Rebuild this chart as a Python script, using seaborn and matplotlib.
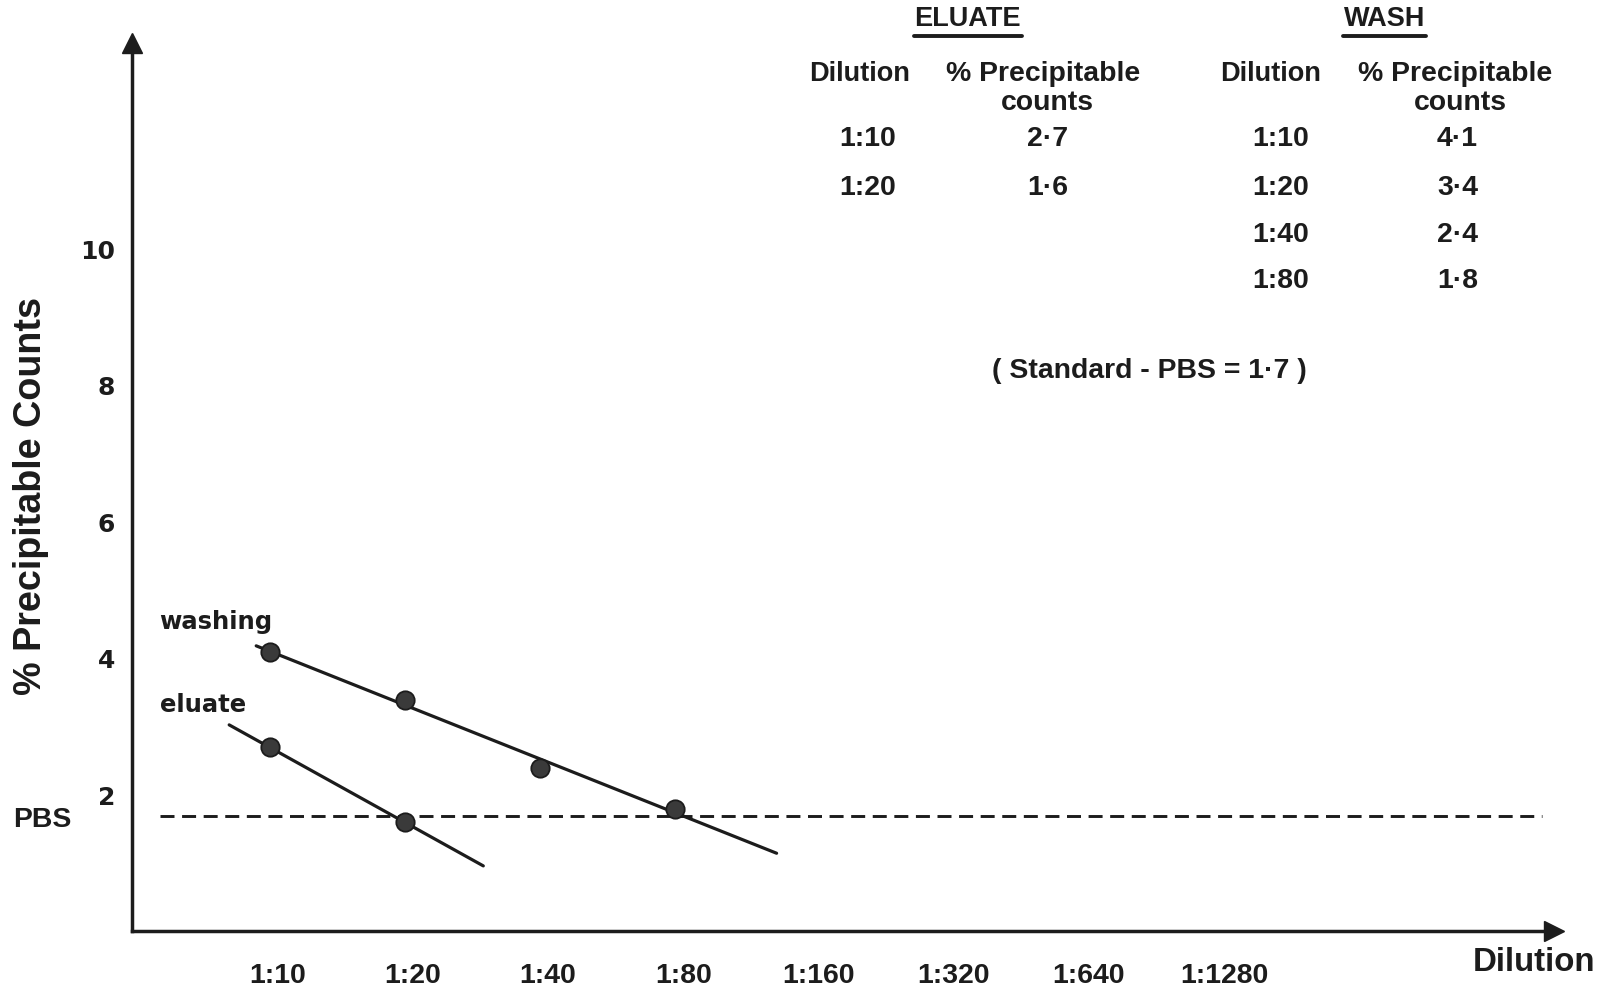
import numpy as np
import pandas as pd
import matplotlib
matplotlib.use("Agg")
import matplotlib.pyplot as plt
from matplotlib import font_manager
from matplotlib.lines import Line2D
import matplotlib.transforms as mtransforms
import seaborn as sns

# ---------------- data ----------------
dilution_labels = ["1:10", "1:20", "1:40", "1:80", "1:160", "1:320", "1:640", "1:1280"]
eluate_dilution = ["1:10", "1:20"]
eluate_pct = [2.7, 1.6]
wash_dilution = ["1:10", "1:20", "1:40", "1:80"]
wash_pct = [4.1, 3.4, 2.4, 1.8]
pbs_standard = 1.7
y_ticks = [2, 4, 6, 8, 10]

eluate_table_vals = ["2·7", "1·6"]
wash_table_vals = ["4·1", "3·4", "2·4", "1·8"]

# ---------------- fonts ----------------
sns.set_theme(style="white")
names = {f.name for f in font_manager.fontManager.ttflist}
NARROW = "Liberation Sans Narrow" if "Liberation Sans Narrow" in names else "Liberation Sans"
narrow_scale = 1.0 if NARROW == "Liberation Sans Narrow" else 0.85
WIDE = "DejaVu Sans"
plt.rcParams["font.family"] = [NARROW, "DejaVu Sans"]
INK = "#1c1c1c"

def pos(lbl):
    return dilution_labels.index(lbl)

el = pd.DataFrame({"x": [pos(d) for d in eluate_dilution], "y": eluate_pct})
wa = pd.DataFrame({"x": [pos(d) for d in wash_dilution], "y": wash_pct})

fig = plt.figure(figsize=(16.14, 9.88), dpi=100)
ax = fig.add_axes([0.0817, 0.0572, 0.881, 0.8993])
ax.set_xlim(-1.02, 9.5)
ax.set_ylim(0, 13.03)

# fitted lines (least squares through the points), extended a bit
def fit_line(df, x0, x1):
    k, b = np.polyfit(df["x"], df["y"], 1)
    xs = np.array([x0, x1])
    return pd.DataFrame({"x": xs, "y": k * xs + b})

sns.lineplot(data=fit_line(wa, -0.1, 3.75), x="x", y="y", ax=ax, color=INK, lw=2.3, sort=False)
sns.lineplot(data=fit_line(el, -0.3, 1.58), x="x", y="y", ax=ax, color=INK, lw=2.3, sort=False)
sns.scatterplot(data=wa, x="x", y="y", ax=ax, color="#3a3a3a", edgecolor=INK, s=175, linewidth=1.3, zorder=5)
sns.scatterplot(data=el, x="x", y="y", ax=ax, color="#3a3a3a", edgecolor=INK, s=175, linewidth=1.3, zorder=5)

ax.hlines(pbs_standard, -0.81, 9.41, colors=INK, linewidth=2.1, linestyles=(0, (4.8, 2.6)))

# axes styling
for s in ["top", "right"]:
    ax.spines[s].set_visible(False)
for s in ["left", "bottom"]:
    ax.spines[s].set_color(INK)
    ax.spines[s].set_linewidth(2.5)
ax.plot([0], [1], marker="^", markersize=15, color=INK, transform=ax.transAxes, clip_on=False)
ax.plot([1], [0], marker=">", markersize=15, color=INK, transform=ax.transAxes, clip_on=False)

ax.set_xticks(range(len(dilution_labels)))
ax.set_xticklabels(dilution_labels, fontsize=24 * narrow_scale, fontweight="bold", color=INK)
ax.set_yticks(y_ticks)
ax.set_yticklabels([str(v) for v in y_ticks], fontsize=18, fontweight="bold", color=INK, family=WIDE)
ax.tick_params(axis="both", direction="out", length=9, width=1.6, color=INK)
ax.tick_params(axis="x", pad=14)
ax.tick_params(axis="y", pad=3)
ax.set_xlabel("")
ax.set_ylabel("")
offset = mtransforms.ScaledTranslation(8 / 100, 0, fig.dpi_scale_trans)
for tick in ax.xaxis.get_major_ticks():
    tick.label1.set_transform(tick.label1.get_transform() + offset)

W, H = 1614.0, 988.0
sc = 1614 / 1568

def ftext(x, y, s, size=22, ha="center", va="center", family=None, **kw):
    fam = family if family else [NARROW, "DejaVu Sans"]
    if family is None:
        size = size * narrow_scale
    return fig.text(x * sc / W, 1 - y * sc / H, s, fontsize=size, ha=ha, va=va,
                    fontweight="bold", color=INK, family=fam, **kw)

# axis labels
ftext(30, 482, "% Precipitable Counts", size=32, rotation=90)
ftext(1490, 935, "Dilution", size=28)
ftext(41, 797, "PBS", size=24)
ftext(155, 604, "washing", size=17.5, ha="left", family=WIDE)
ftext(155, 685, "eluate", size=17.5, ha="left", family=WIDE)

# table
ftext(940, 18, "ELUATE", size=23)
ftext(1345, 18, "WASH", size=23)
for x0, x1 in [(888, 993), (1305, 1385)]:
    fig.add_artist(Line2D([x0 * sc / W, x1 * sc / W], [1 - 35 * sc / H] * 2, color=INK, lw=2.8))

for cx_dil, cx_pct in [(835, 1013), (1234, 1414)]:
    ftext(cx_dil, 72, "Dilution", size=23)
    ftext(cx_pct, 72, "% Precipitable", size=24)
    ftext(cx_pct + 5, 100, "counts", size=24)

rows_y = [135, 183, 228, 273]
for i, (d, v) in enumerate(zip(eluate_dilution, eluate_table_vals)):
    ftext(843, rows_y[i], d, size=24)
    ftext(1018, rows_y[i], v, size=24)
for i, (d, v) in enumerate(zip(wash_dilution, wash_table_vals)):
    ftext(1244, rows_y[i], d, size=24)
    ftext(1416, rows_y[i], v, size=24)

ftext(1117, 360, "( Standard - PBS = %s )" % str(pbs_standard).replace(".", "·"), size=24)

fig.savefig("out.png", dpi=100, facecolor="white")
